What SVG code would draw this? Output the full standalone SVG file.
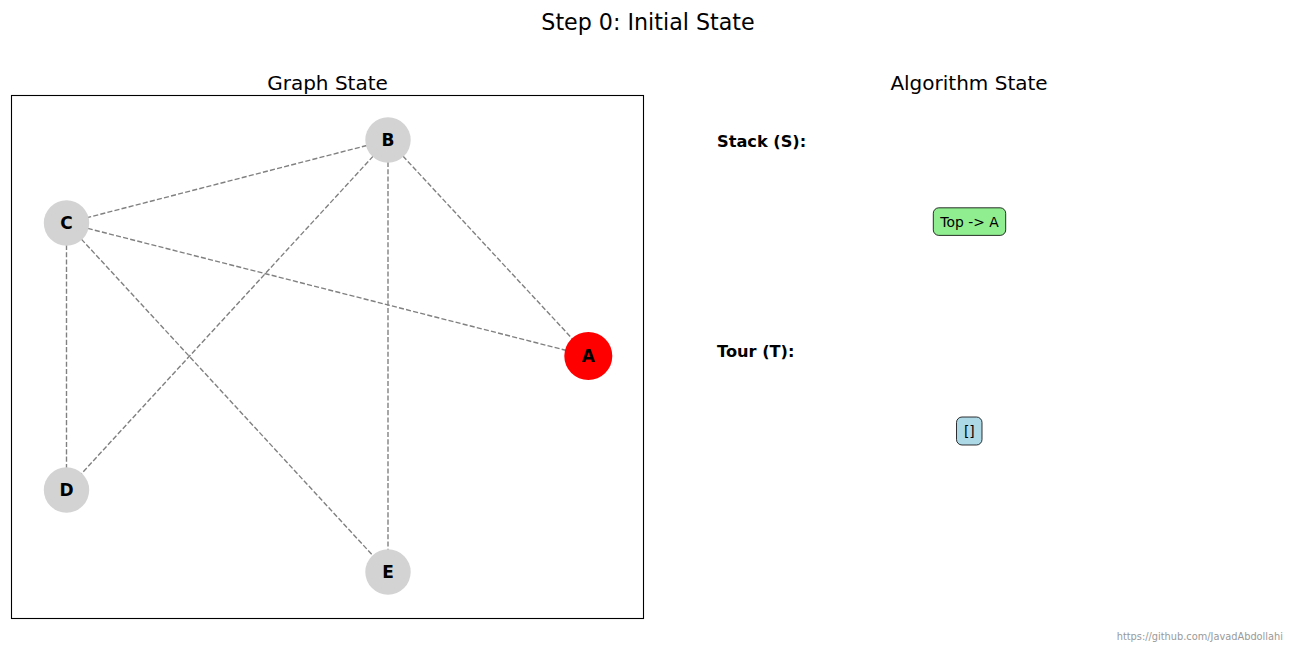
<svg xmlns="http://www.w3.org/2000/svg" width="1296" height="648" viewBox="0 0 1296 648">
<style>
text{font-family:"DejaVu Sans","Liberation Sans",sans-serif;fill:#000}
.title{font-size:22.2px;text-anchor:middle}
.axtitle{font-size:20px;text-anchor:middle}
.edge{stroke:#808080;stroke-width:1.39;stroke-dasharray:5.1 2.2;fill:none}
.node{fill:#D3D3D3}
.lbl{font-size:17px;font-weight:bold;text-anchor:middle}
.head{font-size:16.2px;font-weight:bold}
.box{stroke:#000;stroke-width:1;stroke-opacity:0.8}
.boxtxt{font-size:13.9px;text-anchor:middle}
</style>
<rect width="1296" height="648" fill="#fff"/>
<text class="title" x="648" y="29.5">Step 0: Initial State</text>
<text class="axtitle" x="327.5" y="89.5">Graph State</text>
<text class="axtitle" x="969" y="89.5">Algorithm State</text>
<rect x="11.5" y="95.5" width="632" height="523" fill="none" stroke="#000" stroke-width="1.1"/>
<g id="connectors">
<line class="edge" x1="388" y1="140" x2="66.5" y2="223"/>
<line class="edge" x1="388" y1="140" x2="588.3" y2="356"/>
<line class="edge" x1="388" y1="140" x2="66.5" y2="490"/>
<line class="edge" x1="388" y1="140" x2="388" y2="572"/>
<line class="edge" x1="66.5" y1="223" x2="588.3" y2="356"/>
<line class="edge" x1="66.5" y1="223" x2="66.5" y2="490"/>
<line class="edge" x1="66.5" y1="223" x2="388" y2="572"/>
</g>
<g id="node-A"><circle cx="588.3" cy="356" r="24" fill="#FF0000"/><text class="lbl" x="588.3" y="362">A</text></g>
<g id="node-B"><circle class="node" cx="388" cy="140" r="22.7"/><text class="lbl" x="388" y="146">B</text></g>
<g id="node-C"><circle class="node" cx="66.5" cy="223" r="22.7"/><text class="lbl" x="66.5" y="229">C</text></g>
<g id="node-D"><circle class="node" cx="66.5" cy="490" r="22.7"/><text class="lbl" x="66.5" y="496">D</text></g>
<g id="node-E"><circle class="node" cx="388" cy="572" r="22.7"/><text class="lbl" x="388" y="578">E</text></g>
<g id="stack">
<text class="head" x="717" y="147.3">Stack (S):</text>
<rect class="box" x="933.3" y="207.8" width="72.4" height="27.6" rx="5.5" fill="#90EE90"/>
<text class="boxtxt" x="969.5" y="226.5">Top -&gt; A</text>
</g>
<g id="tour">
<text class="head" x="717" y="356.5">Tour (T):</text>
<rect class="box" x="956.5" y="417" width="25.5" height="28" rx="5.5" fill="#ADD8E6"/>
<text class="boxtxt" x="969.3" y="435.5">[]</text>
</g>
<text x="1283" y="640" style="fill:#999;text-anchor:end;font-size:9.8px">https://github.com/JavadAbdollahi</text>
</svg>
